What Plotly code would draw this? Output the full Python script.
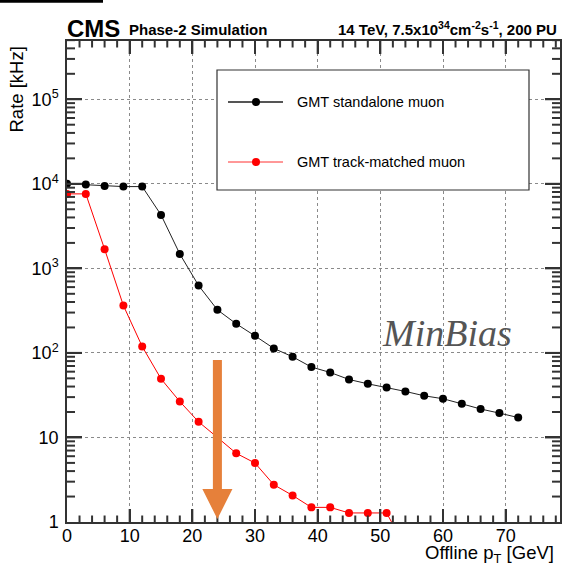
import math
import plotly.graph_objects as go

# ---------------- data ----------------
pt_standalone = [0, 3, 6, 9, 12, 15, 18, 21, 24, 27, 30, 33, 36, 39, 42, 45, 48, 51, 54, 57, 60, 63, 66, 69, 72]
rate_standalone = [10000, 9800, 9440, 9270, 9270, 4290, 1480, 626, 323, 221, 159, 113, 90, 68, 58.7,
                   48.5, 43.1, 39, 35, 31.1, 28.7, 25, 21.7, 19.4, 17.2]
pt_trackmatched = [0, 3, 6, 9, 12, 15, 18, 21, 24, 27, 30, 33, 36, 39, 42, 45, 48, 51, 54]
rate_trackmatched = [7600, 7600, 1687, 363, 119, 49.4, 26.6, 15.3, 10.0, 6.5, 4.98, 2.76, 2.06, 1.49,
                     1.49, 1.28, 1.28, 1.28, 0.5]

legend_labels = ["GMT standalone muon", "GMT track-matched muon"]
x_tickvals = [0, 10, 20, 30, 40, 50, 60, 70]
x_minor = [v for v in range(2, 79, 2) if v % 10 != 0]
y_tickvals = [1, 10, 100, 1000, 10000, 100000]
y_ticktext = ["1", "10", "10<sup>2</sup>", "10<sup>3</sup>", "10<sup>4</sup>", "10<sup>5</sup>"]
y_minor = [k * 10 ** d for d in range(0, 6) for k in range(2, 10) if k * 10 ** d <= 5e5]
x_range = [0, 78.67]
y_range_log = [0, 5.689]
threshold_pt = 24

FONT = "Liberation Sans, Arial, Helvetica, sans-serif"
W, H = 577, 569
ML, MR, MT, MB = 67, 17, 41, 47
PW, PH = W - ML - MR, H - MT - MB
AXC = "#333333"


def px(xpix):
    return (xpix - ML) / PW


def py(ypix):
    return (H - MB - ypix) / PH


def ylog_paper(v):
    return (math.log10(v) - y_range_log[0]) / (y_range_log[1] - y_range_log[0])


fig = go.Figure()
fig.add_trace(go.Scatter(x=pt_standalone, y=rate_standalone, mode="lines+markers",
                         name=legend_labels[0],
                         line=dict(color="#222222", width=1),
                         marker=dict(color="black", size=8)))
fig.add_trace(go.Scatter(x=pt_trackmatched, y=rate_trackmatched, mode="lines+markers",
                         name=legend_labels[1],
                         line=dict(color="#ff0000", width=1),
                         marker=dict(color="#ff0000", size=8)))

TF = dict(family=FONT, size=18, color="black")
fig.update_xaxes(range=x_range, tickmode="array", tickvals=x_tickvals,
                 ticks="inside", ticklen=13, tickwidth=2, tickcolor=AXC,
                 showline=True, mirror="ticks", linecolor=AXC, linewidth=1.5,
                 showgrid=True, gridcolor="#8a8a8a", griddash="dot", gridwidth=1, zeroline=False,
                 tickfont=TF, ticklabelstandoff=-3)
fig.update_yaxes(type="log", range=y_range_log, tickmode="array", tickvals=y_tickvals,
                 ticktext=y_ticktext, ticks="inside", ticklen=15, tickwidth=2, tickcolor=AXC,
                 showline=True, mirror="ticks", linecolor=AXC, linewidth=1.5,
                 showgrid=True, gridcolor="#8a8a8a", griddash="dot", gridwidth=1, zeroline=False,
                 tickfont=TF, ticklabelstandoff=3)

shapes = []
annotations = []

# ROOT-style inside ticks on all four sides, derived from the tick arrays
tick_line = dict(color=AXC, width=2)
for vals, length in ((x_tickvals[1:], 13), (x_minor, 6.5)):
    for v in vals:
        shapes.append(dict(type="line", xref="x", yref="paper", x0=v, x1=v, y0=0, y1=length / PH,
                           line=tick_line, layer="above"))
        shapes.append(dict(type="line", xref="x", yref="paper", x0=v, x1=v, y0=1 - length / PH, y1=1,
                           line=tick_line, layer="above"))
for vals, length in ((y_tickvals[1:], 15), (y_minor, 8)):
    for v in vals:
        yp = ylog_paper(v)
        shapes.append(dict(type="line", xref="paper", yref="paper", x0=0, x1=length / PW, y0=yp, y1=yp,
                           line=tick_line, layer="above"))
        shapes.append(dict(type="line", xref="paper", yref="paper", x0=1 - length / PW, x1=1, y0=yp, y1=yp,
                           line=tick_line, layer="above"))

# top-left black bar (crop artefact of the original slide)
shapes.append(dict(type="rect", xref="paper", yref="paper", x0=px(0), x1=px(103), y0=py(2.7), y1=py(0),
                   fillcolor="black", line=dict(width=0), layer="above"))

# legend box
shapes.append(dict(type="rect", xref="paper", yref="paper", x0=px(217), x1=px(529), y0=py(190), y1=py(70),
                   fillcolor="white", line=dict(color="#333333", width=1.2), layer="above"))
leg_rows = [(102, "#555555", 2, "black"), (162, "#ff3030", 1, "#ff0000")]
for (ypix, lcol, lw, mcol), label in zip(leg_rows, legend_labels):
    shapes.append(dict(type="line", xref="paper", yref="paper", x0=px(228), x1=px(283), y0=py(ypix), y1=py(ypix),
                       line=dict(color=lcol, width=lw), layer="above"))
    shapes.append(dict(type="circle", xref="paper", yref="paper", xsizemode="pixel", ysizemode="pixel",
                       xanchor=px(256), yanchor=py(ypix), x0=-4, x1=4, y0=-4, y1=4,
                       fillcolor=mcol, line=dict(width=0), layer="above"))
    annotations.append(dict(x=px(295), y=py(ypix), xref="paper", yref="paper", text=label, showarrow=False,
                            xanchor="left", yanchor="middle",
                            font=dict(family=FONT, size=14.5, color="black")))

# orange arrow at the threshold
ax0, ax1 = threshold_pt - 0.72, threshold_pt + 0.72
hx0, hx1 = threshold_pt - 2.4, threshold_pt + 2.4
path = (f"M {ax0},{py(360)} L {ax1},{py(360)} L {ax1},{py(489)} L {hx1},{py(489)} "
        f"L {threshold_pt},{py(519)} L {hx0},{py(489)} L {ax0},{py(489)} Z")
shapes.append(dict(type="path", xref="x", yref="paper", path=path, fillcolor="#e6803a",
                   line=dict(width=0), layer="above"))

# header texts
annotations.append(dict(x=px(65), y=py(44), xref="paper", yref="paper", text="<b>CMS</b>", showarrow=False,
                        xanchor="left", yanchor="bottom", font=dict(family=FONT, size=24, color="black")))
annotations.append(dict(x=px(127), y=py(40), xref="paper", yref="paper", text="<b>Phase-2 Simulation</b>",
                        showarrow=False, xanchor="left", yanchor="bottom",
                        font=dict(family=FONT, size=15, color="black")))
annotations.append(dict(x=px(559), y=py(40), xref="paper", yref="paper",
                        text="<b>14 TeV, 7.5x10<sup>34</sup>cm<sup>-2</sup>s<sup>-1</sup>, 200 PU</b>",
                        showarrow=False, xanchor="right", yanchor="bottom",
                        font=dict(family=FONT, size=15, color="black")))

# axis titles
annotations.append(dict(x=px(556), y=py(540), xref="paper", yref="paper",
                        text="Offline p<sub>T</sub> [GeV]", showarrow=False, xanchor="right", yanchor="top",
                        font=dict(family=FONT, size=18.5, color="black")))
annotations.append(dict(x=px(4), y=py(44), xref="paper", yref="paper", text="Rate [kHz]", showarrow=False,
                        textangle=-90, xanchor="left", yanchor="top",
                        font=dict(family=FONT, size=18.5, color="black")))

# MinBias label
annotations.append(dict(x=px(380), y=py(333), xref="paper", yref="paper", text="<i>MinBias</i>",
                        showarrow=False, xanchor="left", yanchor="middle",
                        font=dict(family="Liberation Serif, DejaVu Serif, serif", size=38, color="#555555")))

fig.update_layout(width=W, height=H, margin=dict(l=ML, r=MR, t=MT, b=MB),
                  paper_bgcolor="white", plot_bgcolor="white", showlegend=False,
                  shapes=shapes, annotations=annotations)

fig.write_html("out.html")
